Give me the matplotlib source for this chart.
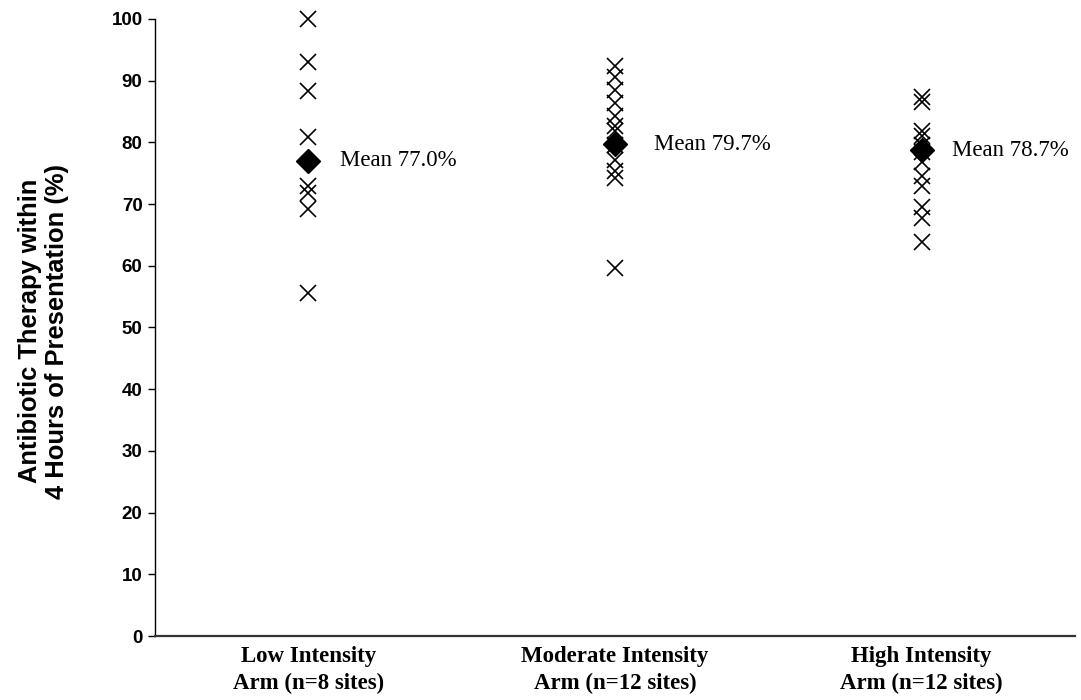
import numpy as np
import matplotlib.pyplot as plt

# values (% of patients with antibiotics within 4 h, per site)
arm_labels = ["Low Intensity\nArm (n=8 sites)",
              "Moderate Intensity\nArm (n=12 sites)",
              "High Intensity\nArm (n=12 sites)"]
low_sites = [100.0, 93.1, 88.3, 80.9, 73.0, 71.8, 69.2, 55.6]
moderate_sites = [92.3, 90.6, 88.5, 86.4, 84.2, 82.6, 81.9, 79.5, 77.1, 75.3, 74.2, 59.7]
high_sites = [87.3, 86.6, 81.8, 81.0, 78.5, 76.8, 74.6, 73.0, 69.6, 67.8, 63.8, 79.5]
arm_means = [77.0, 79.7, 78.7]
y_ticks = [0, 10, 20, 30, 40, 50, 60, 70, 80, 90, 100]

serif = ["Liberation Serif", "DejaVu Serif"]
sans = ["Liberation Sans", "DejaVu Sans"]

fig = plt.figure(figsize=(10.81, 7.0), dpi=100)
ax = fig.add_axes([0.1434, 0.0914, 0.8511, 0.8815])

for i, vals in enumerate([low_sites, moderate_sites, high_sites]):
    ax.plot([i] * len(vals), vals, linestyle="none", marker="x",
            markersize=12, markeredgewidth=1.2, color="black", clip_on=False)

ax.plot(range(len(arm_means)), arm_means, linestyle="none", marker="D",
        markersize=12, color="black", zorder=3)

# data labels next to the mean diamonds
label_dx = [23, 28, 22]
for i, m in enumerate(arm_means):
    ax.annotate("Mean %.1f%%" % m, xy=(i, m), xytext=(label_dx[i], 0),
                textcoords="offset points", ha="left", va="center",
                fontsize=16.5, family=serif)

ax.set_xlim(-0.5, 2.5)
ax.set_ylim(0, 100)
ax.set_yticks(y_ticks)
ax.set_yticklabels([str(t) for t in y_ticks], fontsize=13.5, fontweight="bold", family=sans)
ax.set_xticks(range(3))
ax.set_xticklabels(arm_labels, fontsize=16.5, fontweight="bold", family=serif,
                   linespacing=1.4)
ax.tick_params(axis="x", length=0, pad=7)
ax.tick_params(axis="y", direction="out", length=5, width=1, pad=4)

ax.set_ylabel("Antibiotic Therapy within\n4 Hours of Presentation (%)",
              fontsize=18.4, fontweight="bold", family=sans, linespacing=1.2)
ax.yaxis.set_label_coords(-0.093, 0.494)

for s in ["top", "right"]:
    ax.spines[s].set_visible(False)
ax.spines["left"].set_linewidth(1.0)
ax.spines["bottom"].set_linewidth(1.6)
ax.spines["bottom"].set_color("#333333")

fig.savefig("out.png", dpi=100)
